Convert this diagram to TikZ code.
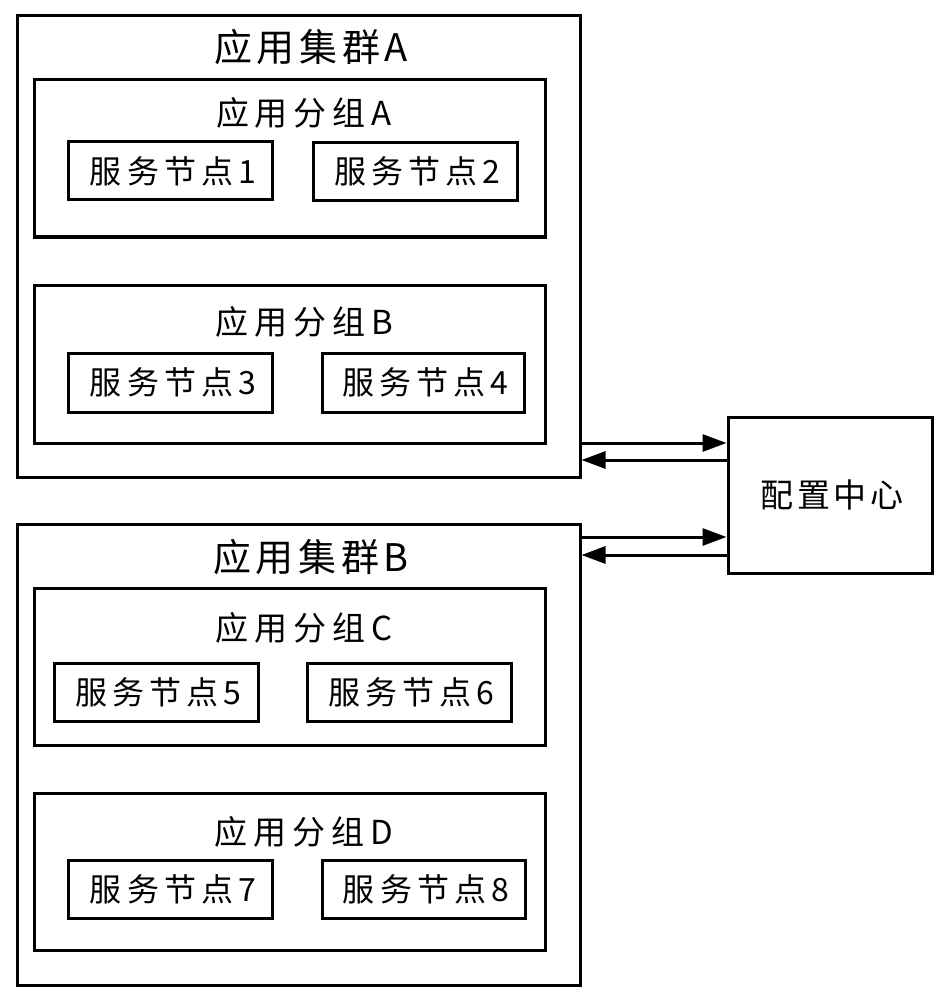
\documentclass[tikz,border=0pt]{standalone}
\usepackage{fontspec}
\setmainfont{Noto Sans CJK SC}
\newfontfamily\clfont[LetterSpace=12]{Noto Sans CJK SC}
\newfontfamily\grfont[LetterSpace=18]{Noto Sans CJK SC}
\newfontfamily\ndfont[LetterSpace=16]{Noto Sans CJK SC}
\newfontfamily\cffont[LetterSpace=12]{Noto Sans CJK SC}
\usetikzlibrary{arrows.meta}
\tikzset{
  box/.style={draw=black, line width=3pt, inner sep=0pt, fill=white},
  cluster/.style={box, minimum width=563pt, minimum height=461pt},
  group/.style={box, minimum width=511pt, minimum height=157pt},
  svc/.style={box, minimum width=204pt, minimum height=58pt, font=\ndfont\fontsize{32pt}{34pt}\selectfont},
  cltitle/.style={inner sep=0pt, font=\clfont\fontsize{38pt}{40pt}\selectfont},
  grtitle/.style={inner sep=0pt, font=\grfont\fontsize{33pt}{35pt}\selectfont},
  cfg/.style={box, minimum width=204pt, minimum height=156pt, font=\cffont\fontsize{33pt}{35pt}\selectfont},
  arr/.style={line width=3pt, -{Triangle[length=24pt,width=17pt]}}
}
\begin{document}
\begin{tikzpicture}[x=1pt,y=-1pt]
\useasboundingbox[fill=white] (0,0) rectangle (948,1000);
% cluster A
\node[cluster] (clA) at (298.5,246.5) {};
\node[cltitle] (tA) at (311,47) {应用集群A};
\node[group] (gA) at (289.5,158.5) {};
\node[grtitle] (tgA) at (304,113) {应用分组A};
\node[svc] (n1) at (170.5,171) {\hspace*{5pt}服务节点1};
\node[svc] (n2) at (415,171.5) {\hspace*{5pt}服务节点2};
\node[group, minimum height=158pt] (gB) at (289.5,364) {};
\node[grtitle] (tgB) at (304,322) {应用分组B};
\node[svc, minimum height=59pt] (n3) at (170.5,382.5) {\hspace*{5pt}服务节点3};
\node[svc, minimum width=202pt, minimum height=59pt] (n4) at (423,382.5) {\hspace*{5pt}服务节点4};
% cluster B
\node[cluster] (clB) at (298.5,754.5) {};
\node[cltitle] (tB) at (311,557) {应用集群B};
\node[group] (gC) at (289.5,666.5) {};
\node[grtitle] (tgC) at (304,628) {应用分组C};
\node[svc] (n5) at (156,692) {\hspace*{5pt}服务节点5};
\node[svc] (n6) at (409,692) {\hspace*{5pt}服务节点6};
\node[group] (gD) at (289.5,871.5) {};
\node[grtitle] (tgD) at (304,832) {应用分组D};
\node[svc] (n7) at (170.5,889) {\hspace*{5pt}服务节点7};
\node[svc, minimum width=203pt] (n8) at (423.5,889) {\hspace*{5pt}服务节点8};
% config center
\node[cfg] (cf) at (830,495) {\hspace*{4pt}配置中心};
% arrows
\coordinate (y1) at (0,443);
\coordinate (y2) at (0,460);
\coordinate (y3) at (0,537);
\coordinate (y4) at (0,555);
\draw[arr] (clA.east |- y1) -- (cf.west |- y1);
\draw[arr] (cf.west |- y2) -- (clA.east |- y2);
\draw[arr] (clB.east |- y3) -- (cf.west |- y3);
\draw[arr] (cf.west |- y4) -- (clB.east |- y4);
\end{tikzpicture}
\end{document}
